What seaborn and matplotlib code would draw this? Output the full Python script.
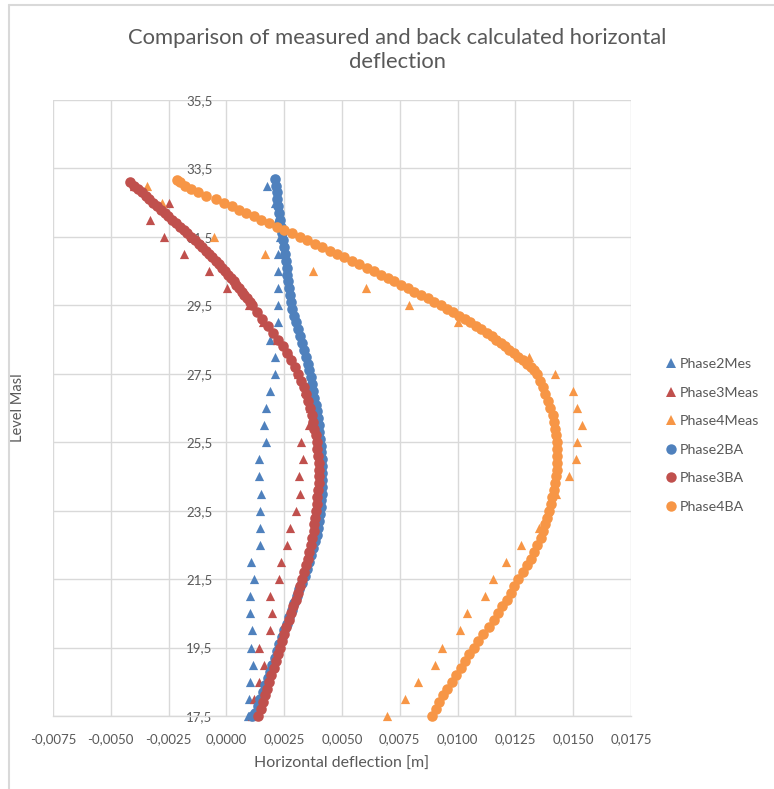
import matplotlib
matplotlib.use("Agg")
import matplotlib.pyplot as plt
import seaborn as sns
import pandas as pd
from matplotlib.lines import Line2D

# ---------------- data ----------------
meas_levels = [33.0, 32.5, 32.0, 31.5, 31.0, 30.5, 30.0, 29.5, 29.0, 28.5, 28.0, 27.5,
               27.0, 26.5, 26.0, 25.5, 25.0, 24.5, 24.0, 23.5, 23.0, 22.5, 22.0, 21.5,
               21.0, 20.5, 20.0, 19.5, 19.0, 18.5, 18.0, 17.5]

phase2_mes = [0.00176, 0.00210, 0.00220, 0.00230, 0.00225, 0.00222, 0.00225, 0.00222,
              0.00222, 0.00187, 0.00212, 0.00212, 0.00190, 0.00173, 0.00161, 0.00172,
              0.00140, 0.00140, 0.00150, 0.00144, 0.00144, 0.00144, 0.00107, 0.00121,
              0.00101, 0.00101, 0.00111, 0.00108, 0.00115, 0.00104, 0.00097, 0.00095]

phase3_meas = [-0.00400, -0.00250, -0.00329, -0.00271, -0.00182, -0.00077, 0.00003, 0.00097,
               0.00160, 0.00220, 0.00280, 0.00310, 0.00340, 0.00360, 0.00356, 0.00323,
               0.00332, 0.00316, 0.00320, 0.00303, 0.00277, 0.00260, 0.00238, 0.00226,
               0.00190, 0.00198, 0.00190, 0.00143, 0.00161, 0.00143, 0.00118, 0.00110]

phase4_meas = [-0.00343, -0.00278, -0.00228, -0.00055, 0.00169, 0.00373, 0.00604, 0.00791,
               0.01000, 0.01180, 0.01310, 0.01423, 0.01499, 0.01517, 0.01540, 0.01517,
               0.01514, 0.01480, 0.01427, 0.01390, 0.01350, 0.01276, 0.01210, 0.01153,
               0.01117, 0.01041, 0.01009, 0.00933, 0.00901, 0.00827, 0.00771, 0.00695]

phase2_ba_level = [33.2, 33.0, 32.8, 32.6, 32.4, 32.2, 32.0, 31.8, 31.6, 31.4, 31.2, 31.0,
                   30.8, 30.6, 30.4, 30.2, 30.0, 29.8, 29.6, 29.4, 29.2, 29.0, 28.8, 28.6,
                   28.4, 28.2, 28.0, 27.8, 27.6, 27.4, 27.2, 27.0, 26.8, 26.6, 26.4, 26.2,
                   26.0, 25.8, 25.6, 25.4, 25.2, 25.0, 24.8, 24.6, 24.4, 24.2, 24.0, 23.8,
                   23.6, 23.4, 23.2, 23.0, 22.8, 22.6, 22.4, 22.2, 22.0, 21.8, 21.6, 21.4,
                   21.2, 21.0, 20.8, 20.6, 20.4, 20.2, 20.0, 19.8, 19.6, 19.4, 19.2, 19.0,
                   18.8, 18.6, 18.4, 18.2, 18.0, 17.8, 17.6, 17.5]
phase2_ba = [0.00212, 0.00215, 0.00218, 0.00221, 0.00224, 0.00227, 0.00231, 0.00235,
             0.00240, 0.00245, 0.00249, 0.00253, 0.00257, 0.00261, 0.00264, 0.00268,
             0.00272, 0.00276, 0.00280, 0.00285, 0.00292, 0.00300, 0.00309, 0.00318,
             0.00328, 0.00337, 0.00345, 0.00352, 0.00359, 0.00365, 0.00371, 0.00376,
             0.00381, 0.00386, 0.00391, 0.00395, 0.00399, 0.00402, 0.00405, 0.00408,
             0.00411, 0.00413, 0.00414, 0.00415, 0.00415, 0.00414, 0.00413, 0.00411,
             0.00409, 0.00406, 0.00402, 0.00397, 0.00391, 0.00384, 0.00376, 0.00367,
             0.00358, 0.00348, 0.00338, 0.00327, 0.00316, 0.00305, 0.00294, 0.00283,
             0.00272, 0.00261, 0.00250, 0.00240, 0.00229, 0.00219, 0.00209, 0.00199,
             0.00189, 0.00179, 0.00169, 0.00158, 0.00147, 0.00135, 0.00122, 0.00112]

phase3_ba_level = [33.1, 33.0, 32.9, 32.8, 32.7, 32.6, 32.5, 32.4, 32.3, 32.2, 32.1, 32.0,
                   31.9, 31.8, 31.7, 31.6, 31.5, 31.4, 31.3, 31.2, 31.1, 31.0, 30.9, 30.8,
                   30.7, 30.6, 30.5, 30.4, 30.3, 30.2, 30.1, 30.0, 29.9, 29.8, 29.7, 29.6,
                   29.5, 29.3, 29.1, 28.9, 28.7, 28.5, 28.3, 28.1, 27.9, 27.7, 27.5, 27.3,
                   27.1, 26.9, 26.7, 26.5, 26.3, 26.1, 25.9, 25.7, 25.5, 25.3, 25.1, 24.9,
                   24.7, 24.5, 24.3, 24.1, 23.9, 23.7, 23.5, 23.3, 23.1, 22.9, 22.7, 22.5,
                   22.3, 22.1, 21.9, 21.7, 21.5, 21.3, 21.1, 20.9, 20.7, 20.5, 20.3, 20.1,
                   19.9, 19.7, 19.5, 19.3, 19.1, 18.9, 18.7, 18.5, 18.3, 18.1, 17.9, 17.7,
                   17.5]
phase3_ba = [-0.00415, -0.00398, -0.00382, -0.00366, -0.00349, -0.00333, -0.00316, -0.00300,
             -0.00284, -0.00267, -0.00251, -0.00234, -0.00218, -0.00202, -0.00185, -0.00169,
             -0.00152, -0.00136, -0.00120, -0.00105, -0.00090, -0.00076, -0.00061, -0.00046,
             -0.00031, -0.00017, -0.00004, 0.00008, 0.00019, 0.00031, 0.00043, 0.00054,
             0.00066, 0.00077, 0.00089, 0.00100, 0.00111, 0.00133, 0.00155, 0.00178,
             0.00200, 0.00222, 0.00243, 0.00262, 0.00280, 0.00296, 0.00310, 0.00323,
             0.00335, 0.00345, 0.00354, 0.00362, 0.00369, 0.00375, 0.00381, 0.00386,
             0.00390, 0.00394, 0.00397, 0.00399, 0.00400, 0.00400, 0.00399, 0.00397,
             0.00394, 0.00391, 0.00388, 0.00385, 0.00381, 0.00377, 0.00372, 0.00366,
             0.00359, 0.00351, 0.00343, 0.00335, 0.00326, 0.00317, 0.00308, 0.00299,
             0.00289, 0.00279, 0.00269, 0.00259, 0.00249, 0.00240, 0.00231, 0.00222,
             0.00213, 0.00204, 0.00195, 0.00186, 0.00177, 0.00168, 0.00159, 0.00149,
             0.00138]

phase4_ba_level = [33.15, 33.1, 33.0, 32.9, 32.8, 32.7, 32.6, 32.5, 32.4, 32.3, 32.2, 32.1,
                   32.0, 31.9, 31.8, 31.7, 31.6, 31.5, 31.4, 31.3, 31.2, 31.1, 31.0, 30.9,
                   30.8, 30.7, 30.6, 30.5, 30.4, 30.3, 30.2, 30.1, 30.0, 29.9, 29.8, 29.7,
                   29.6, 29.5, 29.4, 29.3, 29.2, 29.1, 29.0, 28.9, 28.8, 28.7, 28.6, 28.5,
                   28.4, 28.3, 28.2, 28.1, 28.0, 27.9, 27.8, 27.7, 27.6, 27.5, 27.3, 27.1,
                   26.9, 26.7, 26.5, 26.3, 26.1, 25.9, 25.7, 25.5, 25.3, 25.1, 24.9, 24.7,
                   24.5, 24.3, 24.1, 23.9, 23.7, 23.5, 23.3, 23.1, 22.9, 22.7, 22.5, 22.3,
                   22.1, 21.9, 21.7, 21.5, 21.3, 21.1, 20.9, 20.7, 20.5, 20.3, 20.1, 19.9,
                   19.7, 19.5, 19.3, 19.1, 18.9, 18.7, 18.5, 18.3, 18.1, 17.9, 17.7, 17.5]
phase4_ba = [-0.00213, -0.00202, -0.00179, -0.00153, -0.00124, -0.00090, -0.00047, -0.00009,
             0.00024, 0.00054, 0.00085, 0.00118, 0.00151, 0.00184, 0.00218, 0.00251,
             0.00284, 0.00317, 0.00350, 0.00382, 0.00414, 0.00446, 0.00478, 0.00510,
             0.00542, 0.00574, 0.00607, 0.00640, 0.00668, 0.00697, 0.00726, 0.00755,
             0.00784, 0.00813, 0.00842, 0.00871, 0.00900, 0.00929, 0.00956, 0.00981,
             0.01006, 0.01031, 0.01055, 0.01079, 0.01103, 0.01127, 0.01149, 0.01168,
             0.01186, 0.01204, 0.01222, 0.01242, 0.01262, 0.01281, 0.01301, 0.01317,
             0.01331, 0.01343, 0.01357, 0.01370, 0.01380, 0.01390, 0.01401, 0.01411,
             0.01417, 0.01422, 0.01426, 0.01428, 0.01430, 0.01430, 0.01430, 0.01428,
             0.01426, 0.01422, 0.01416, 0.01409, 0.01402, 0.01394, 0.01387, 0.01379,
             0.01370, 0.01360, 0.01345, 0.01330, 0.01316, 0.01302, 0.01283, 0.01262,
             0.01244, 0.01229, 0.01212, 0.01194, 0.01175, 0.01156, 0.01134, 0.01112,
             0.01090, 0.01069, 0.01050, 0.01032, 0.01013, 0.00994, 0.00975, 0.00955,
             0.00936, 0.00919, 0.00905, 0.00890]

x_ticks = [-0.0075, -0.0050, -0.0025, 0.0000, 0.0025, 0.0050, 0.0075, 0.0100, 0.0125, 0.0150, 0.0175]
y_ticks = [17.5, 19.5, 21.5, 23.5, 25.5, 27.5, 29.5, 31.5, 33.5, 35.5]

title = "Comparison of measured and back calculated horizontal\ndeflection"
x_label = "Horizontal deflection [m]"
y_label = "Level Masl"

BLUE = "#4F81BD"
RED = "#C0504D"
ORANGE = "#F79646"
GRID = "#D9D9D9"
TEXT = "#595959"

# ---------------- plot ----------------
sns.set_theme(style="white")
plt.rcParams["font.family"] = ["Lato", "DejaVu Sans"]

fig = plt.figure(figsize=(7.74, 7.89), dpi=100)
ax = fig.add_axes([53 / 774, 1 - 716 / 789, 578 / 774, 616 / 789])

series = [
    ("Phase2Mes", phase2_mes, meas_levels, BLUE, "^"),
    ("Phase3Meas", phase3_meas, meas_levels, RED, "^"),
    ("Phase4Meas", phase4_meas, meas_levels, ORANGE, "^"),
    ("Phase2BA", phase2_ba, phase2_ba_level, BLUE, "o"),
    ("Phase3BA", phase3_ba, phase3_ba_level, RED, "o"),
    ("Phase4BA", phase4_ba, phase4_ba_level, ORANGE, "o"),
]

for name, xs, ys, col, mk in series:
    df = pd.DataFrame({"x": xs, "y": ys})
    size = 44 if mk == "^" else 58
    sns.scatterplot(data=df, x="x", y="y", ax=ax, color=col, marker=mk, s=size,
                    linewidth=0, zorder=3, legend=False, clip_on=False)

ax.set_xlim(-0.0075, 0.0175)
ax.set_ylim(17.5, 35.5)
ax.set_xticks(x_ticks)
ax.set_yticks(y_ticks)
ax.set_xticklabels([f"{v:.4f}".replace(".", ",") for v in x_ticks])
ax.set_yticklabels([f"{v:.1f}".replace(".", ",") for v in y_ticks])

ax.grid(True, color=GRID, linewidth=1.0, zorder=0)
ax.set_axisbelow(True)
for side in ["top", "right", "left"]:
    ax.spines[side].set_visible(False)
ax.spines["bottom"].set_color(GRID)
ax.spines["bottom"].set_linewidth(1.0)
ax.spines["left"].set_position(("data", 0))

ax.tick_params(axis="both", length=0, labelsize=9.5, labelcolor=TEXT)
ax.tick_params(axis="y", pad=10)
ax.tick_params(axis="x", pad=12)

ax.set_xlabel(x_label, fontsize=11.5, color=TEXT, labelpad=9)
ax.set_ylabel(y_label, fontsize=10.5, color=TEXT)
ax.yaxis.set_label_coords(-0.049, 0.5)

fig.text(0.513, 0.964, title, ha="center", va="top", fontsize=15.8, color=TEXT,
         linespacing=1.2)

handles = [Line2D([], [], linestyle="none", marker=mk, color=col,
                  markersize=7 if mk == "^" else 7.5, markeredgewidth=0)
           for name, xs, ys, col, mk in series]
labels = [s[0] for s in series]
fig.legend(handles, labels, loc="upper left", bbox_to_anchor=(0.852, 0.555),
           frameon=False, fontsize=10.3, labelcolor=TEXT, handlelength=0.6,
           handletextpad=0.3, labelspacing=1.15, borderpad=0)

# chart border
fig.add_artist(Line2D([9 / 774, 1], [1 - 5 / 789, 1 - 5 / 789], color=GRID,
                      linewidth=1.5, transform=fig.transFigure))
fig.add_artist(Line2D([9 / 774, 9 / 774], [0, 1 - 5 / 789], color=GRID,
                      linewidth=1.5, transform=fig.transFigure))

fig.savefig("out.png", dpi=100)
